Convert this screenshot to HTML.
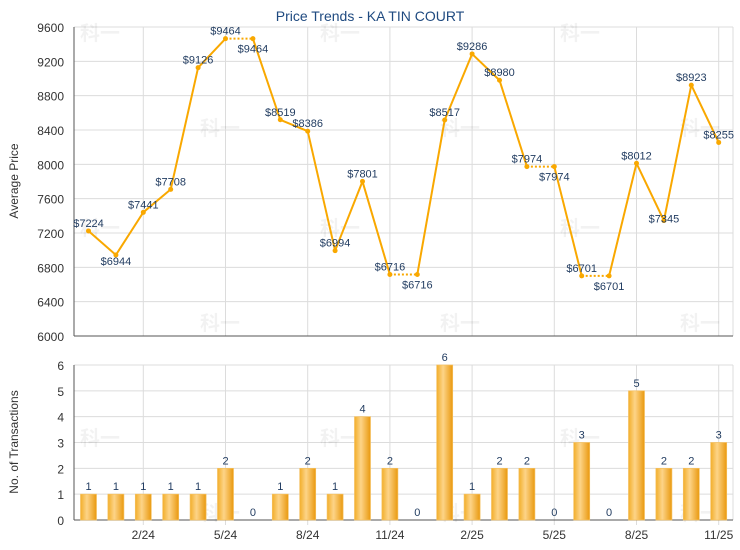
<!DOCTYPE html>
<html><head><meta charset="utf-8"><style>
body{margin:0;background:#fff;}
svg{display:block;font-family:"Liberation Sans",Arial,sans-serif;}
</style></head><body>
<svg id="s" width="740" height="550" xmlns="http://www.w3.org/2000/svg">
<defs>
<linearGradient id="bg" x1="0" x2="1" y1="0" y2="0">
<stop offset="0" stop-color="#f2ae2a"/><stop offset="0.4" stop-color="#fdd488"/><stop offset="1" stop-color="#e9990f"/>
</linearGradient>
</defs>
<text x="370" y="21" font-size="14" fill="#1f4a80" text-anchor="middle">Price Trends - KA TIN COURT</text>
<g id="g"></g>
</svg>
<script>
var g=document.getElementById('g'),h='';
var L=74,R=733,T=27,B=336,BT=365,BB=520;
var P=[7224,6944,7441,7708,9126,9464,9464,8519,8386,6994,7801,6716,6716,8517,9286,8980,7974,7974,6701,6701,8012,7345,8923,8255];
var C=[1,1,1,1,1,2,0,1,2,1,4,2,0,6,1,2,2,0,3,0,5,2,2,3];
var off={1:[0,10],6:[0,14],12:[0,14],17:[0,14],19:[0,14],21:[0,2],8:[0,-4],9:[0,-4]};
function X(i){return 88.5+i*27.4;}
function Y(p){return B-(p-6000)/3600*(B-T);}
function Yc(c){return BB-c*(BB-BT)/6;}
for(var k=0;k<=9;k++){var y=T+k*(B-T)/9;h+='<line x1="'+L+'" x2="'+R+'" y1="'+y+'" y2="'+y+'" stroke="#dcdcdc"/>';
h+='<text x="64" y="'+(y+5)+'" font-size="12" fill="#333" text-anchor="end">'+(9600-k*400)+'</text>';}
for(var k=0;k<=6;k++){var y=Yc(k);h+='<line x1="'+L+'" x2="'+R+'" y1="'+y+'" y2="'+y+'" stroke="#dcdcdc"/>';
h+='<text x="64" y="'+(y+5)+'" font-size="12" fill="#333" text-anchor="end">'+k+'</text>';}
var labs=['2/24','5/24','8/24','11/24','2/25','5/25','8/25','11/25'];
for(var j=0;j<8;j++){var x=X(2+3*j);
h+='<line x1="'+x+'" x2="'+x+'" y1="'+T+'" y2="'+B+'" stroke="#dcdcdc"/>';
h+='<line x1="'+x+'" x2="'+x+'" y1="'+BT+'" y2="'+(BB+5)+'" stroke="#dcdcdc"/>';
h+='<text x="'+x+'" y="539" font-size="12" fill="#333" text-anchor="middle">'+labs[j]+'</text>';}
h+='<line x1="'+R+'" x2="'+R+'" y1="'+T+'" y2="'+B+'" stroke="#dcdcdc"/>';
h+='<line x1="'+R+'" x2="'+R+'" y1="'+BT+'" y2="'+BB+'" stroke="#dcdcdc"/>';
h+='<line x1="'+L+'" x2="'+L+'" y1="'+T+'" y2="'+B+'" stroke="#555"/><line x1="'+L+'" x2="'+R+'" y1="'+B+'" y2="'+B+'" stroke="#555"/>';
h+='<line x1="'+L+'" x2="'+L+'" y1="'+BT+'" y2="'+BB+'" stroke="#555"/><line x1="'+L+'" x2="'+R+'" y1="'+BB+'" y2="'+BB+'" stroke="#555"/>';
h+='<text transform="translate(18,181) rotate(-90)" font-size="12" fill="#333" text-anchor="middle">Average Price</text>';
h+='<text transform="translate(18,442) rotate(-90)" font-size="12" fill="#333" text-anchor="middle">No. of Transactions</text>';
[[80,40],[200,135],[320,40],[440,135],[560,40],[680,135],[80,235],[200,330],[320,235],[440,330],[560,235],[680,330],[80,445],[200,520],[320,445],[440,520],[560,445],[680,520]].forEach(function(w){
h+='<text x="'+w[0]+'" y="'+w[1]+'" font-size="20" font-weight="bold" fill="#000" fill-opacity="0.05" font-family="Noto Sans CJK SC,sans-serif">科一</text>';});
for(var i=0;i<23;i++){var dot=(C[i+1]==0);
h+='<line x1="'+X(i)+'" y1="'+Y(P[i])+'" x2="'+X(i+1)+'" y2="'+Y(P[i+1])+'" stroke="#f9a800" stroke-width="2"'+(dot?' stroke-dasharray="2,2"':'')+'/>';}
for(var i=0;i<24;i++){var x=X(i),y=Y(P[i]);
h+='<circle cx="'+x+'" cy="'+y+'" r="2.5" fill="#f9a800"/>';
var o=off[i]||[0,-4];
h+='<text x="'+(x+o[0])+'" y="'+(y+o[1])+'" font-size="11" fill="#1f3a5f" text-anchor="middle">$'+P[i]+'</text>';
var c=C[i];
if(c>0){var by=Yc(c);h+='<rect x="'+(x-8)+'" y="'+by+'" width="16" height="'+(BB-by)+'" fill="url(#bg)" stroke="#f5c060" stroke-width="0.7"/>';}
h+='<text x="'+x+'" y="'+(c>0?Yc(c)-4:BB-4)+'" font-size="11" fill="#1f3a5f" text-anchor="middle">'+c+'</text>';}
g.innerHTML=h;
</script>
</body></html>
